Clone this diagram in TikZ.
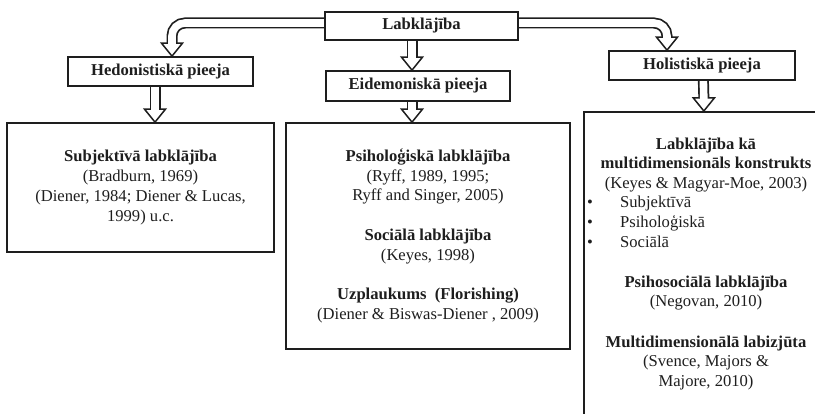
\documentclass[tikz,border=0pt]{standalone}
\usepackage{fontspec}
\setmainfont{Liberation Serif}
\usetikzlibrary{backgrounds}
\definecolor{ink}{HTML}{1E1E1E}
\tikzset{
  box/.style={draw=ink, line width=1.7pt, fill=white, inner sep=0pt},
  lbl/.style={font=\fontsize{16.6}{19.8}\selectfont\bfseries, text=ink},
  txt/.style={font=\fontsize{16.6}{19.8}\selectfont, text=ink, align=center, inner sep=0pt},
  shaftout/.style={draw=ink, line width=11pt, rounded corners=13pt},
  shaftin/.style={draw=white, line width=7.6pt, rounded corners=13pt},
  headdown/.pic={\filldraw[fill=white, draw=ink, line width=1.5pt, line join=miter] (0,0) -- (-10.5,-13) -- (10.5,-13) -- cycle;}
}
\newcommand\blkarrow[3]{%
  \draw[shaftout] (#1) #2 ([yshift=13pt]#3);
  \pic at (#3) {headdown};
  \draw[shaftin] (#1) #2 ([yshift=11pt]#3);
}
\begin{document}
\begin{tikzpicture}[x=1pt,y=-1pt]
\useasboundingbox (0,0) rectangle (815,414);
\clip (0,0) rectangle (815,414);
% top level
\node[box, lbl, minimum width=193pt, minimum height=28pt] (lab) at (421.5,26) {Labklājība};
% approaches
\node[box, lbl, minimum width=185pt, minimum height=29pt] (hed) at (160.5,71.5) {Hedonistiskā pieeja};
\node[box, lbl, minimum width=184pt, minimum height=30pt] (eid) at (418,86) {Eidemoniskā pieeja};
\node[box, lbl, minimum width=186pt, minimum height=29pt] (hol) at (702,65.5) {Holistiskā pieeja};
% content boxes
\node[box, txt, minimum width=267pt, minimum height=129pt] (subj) at (140.5,187.5)
  {\textbf{Subjektīvā labklājība}\\(Bradburn, 1969)\\(Diener, 1984; Diener \& Lucas,\\1999) u.c.};
\node[box, txt, minimum width=284pt, minimum height=226pt] (mid) at (428,236)
  {\textbf{Psiholoģiskā labklājība}\\(Ryff, 1989, 1995;\\Ryff and Singer, 2005)\\[19.8pt]
   \textbf{Sociālā labklājība}\\(Keyes, 1998)\\[19.8pt]
   \textbf{Uzplaukums\ \ (Florishing)}\\(Diener \& Biswas-Diener , 2009)};
\node[box, minimum width=246pt, minimum height=340pt, anchor=north west] (rbox) at (583,111) {};
\node[txt] (r1) at (706,165) {\textbf{Labklājība kā}\\\textbf{multidimensionāls konstrukts}\\(Keyes \& Magyar-Moe, 2003)};
\node[txt, align=left, anchor=west] (r2) at (587,222)
  {\makebox[33pt][l]{•}Subjektīvā\\\makebox[33pt][l]{•}Psiholoģiskā\\\makebox[33pt][l]{•}Sociālā};
\node[txt] (r3) at (706,293) {\textbf{Psihosociālā labklājība}\\(Negovan, 2010)};
\node[txt] (r4) at (706,363) {\textbf{Multidimensionālā labizjūta}\\(Svence, Majors \&\\Majore, 2010)};
% arrow coordinates
\coordinate (sL) at ([yshift=3pt]lab.center);
\coordinate (tL) at ([xshift=11.5pt]hed.north);
\coordinate (tR) at ([xshift=-35pt]hol.north);
\coordinate (sM) at ([xshift=-9.5pt]lab.center);
\coordinate (tM) at ([xshift=-6pt]eid.north);
\coordinate (sH) at ([xshift=-5.5pt]hed.center);
\coordinate (tH) at ([xshift=14.5pt]subj.north);
\coordinate (sE) at ([xshift=-6pt]eid.center);
\coordinate (tE) at ([xshift=-16pt]mid.north);
\coordinate (sO) at ([xshift=1pt]hol.center);
\coordinate (tO) at ([xshift=-3pt]rbox.north);
\begin{pgfonlayer}{background}
  \blkarrow{sL}{-|}{tL}
  \blkarrow{sL}{-|}{tR}
  \blkarrow{sM}{--}{tM}
  \blkarrow{sH}{--}{tH}
  \blkarrow{sE}{--}{tE}
  \blkarrow{sO}{--}{tO}
\end{pgfonlayer}
\end{tikzpicture}
\end{document}
